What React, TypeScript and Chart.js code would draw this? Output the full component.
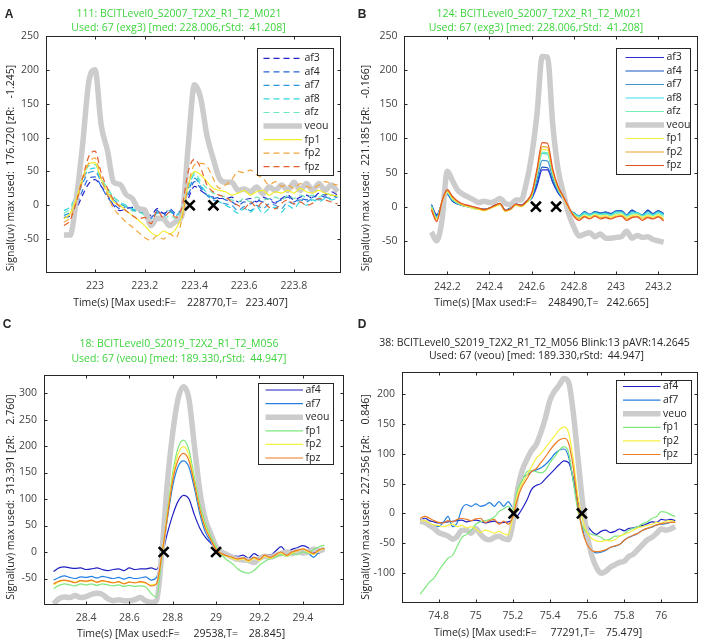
import React, { useEffect, useRef } from 'react';
import { Chart, registerables } from 'chart.js';
Chart.register(...registerables);

const FONT = '"Open Sans", "DejaVu Sans", sans-serif';
const AXIS_COLOR = '#262626';
const TICK_COLOR = '#444444';
const GREEN = '#3dd43d';
const GRAY = '#cccccc';

// ---------------- Panel A ----------------
const aTime = [222.875, 222.9, 222.925, 222.95, 222.975, 223, 223.025, 223.05, 223.075, 223.1, 223.125, 223.15, 223.175, 223.2, 223.225, 223.25, 223.275, 223.3, 223.325, 223.35, 223.375, 223.4, 223.425, 223.45, 223.475, 223.5, 223.525, 223.55, 223.575, 223.6, 223.625, 223.65, 223.675, 223.7, 223.725, 223.75, 223.775, 223.8, 223.825, 223.85, 223.875, 223.9, 223.925, 223.95, 223.975];
const aAf3 = [-18, -16, -5, 15, 32, 38, 28, 15, 0, -8, -5, -3, -8, -10, -15, -5, -12, -8, -15, -8, 10, 28, 22, 15, 12, 10, 10, 12, 5, 8, 10, 5, 12, 8, 3, 10, 15, 8, 12, 15, 10, 18, 15, 20, 15];
const aAf4 = [-18, -15, 0, 22, 40, 42, 28, 12, 2, -5, -2, -8, -5, -10, -18, -8, -15, -5, -12, -5, 15, 35, 25, 15, 10, 12, 8, 5, 0, 5, 2, 8, 5, 10, 5, 8, 12, 5, 10, 8, 12, 15, 12, 15, 12];
const aAf7 = [-15, -10, 8, 32, 48, 50, 35, 20, 8, 2, -2, -6, -10, -12, -20, -10, -18, -8, -14, -5, 20, 40, 28, 15, 8, 5, 2, 0, -8, -2, -8, 0, -5, 2, 0, -5, 5, 2, 8, 5, 10, 8, 12, 10, 12];
const aAf8 = [-8, -2, 15, 38, 52, 55, 38, 25, 12, 5, 0, -5, -8, -10, -22, -12, -20, -10, -15, -5, 25, 45, 30, 18, 10, 5, 0, -5, -12, -5, -10, -2, -12, -5, -3, -10, 0, -5, 5, 0, 8, 5, 10, 8, 10];
const aAfz = [-12, -5, 12, 40, 58, 60, 40, 25, 12, 5, -2, -8, -10, -15, -25, -18, -22, -15, -20, -8, 28, 48, 35, 25, 18, 15, 12, 8, 5, 10, 5, 12, 8, 10, 12, 8, 15, 10, 15, 12, 15, 12, 18, 15, 14];
const aVeou = [-44, -44, 10, 89, 182, 200, 118, 81, 34, 31, 16, 10, -5, -7, -30, -19, -20, -30, -24, -15, 89, 178, 158, 103, 69, 40, 34, 34, 22, 24, 20, 27, 17, 27, 22, 30, 22, 34, 22, 32, 22, 32, 22, 30, 20];
const aFp1 = [-20, -12, 10, 40, 62, 63, 38, 20, 5, 0, -8, -15, -22, -30, -40, -45, -38, -42, -35, -15, 30, 50, 45, 35, 25, 22, 20, 15, 18, 22, 15, 20, 22, 15, 20, 18, 22, 18, 25, 20, 18, 22, 18, 15, 14];
const aFp2 = [-25, -18, 5, 35, 62, 70, 40, 15, -5, -15, -25, -32, -40, -48, -52, -45, -50, -42, -48, -20, 30, 60, 62, 58, 40, 25, 30, 38, 50, 48, 52, 45, 40, 30, 35, 28, 30, 25, 32, 28, 25, 30, 35, 32, 30];
const aFpz = [-30, -22, 5, 40, 72, 80, 48, 25, 8, -2, -8, -15, -20, -18, -27, -8, -18, -10, -18, -2, 50, 68, 55, 30, 20, 15, 12, 5, 0, -5, 5, -3, 5, -3, -5, 3, 8, 2, 5, 0, 3, 10, 8, 5, 2];
const aMarkers = [223.381, 223.476];
const aXTicks = [223, 223.2, 223.4, 223.6, 223.8];
const aYTicks = [-50, 0, 50, 100, 150, 200, 250];

// ---------------- Panel B ----------------
const bTime = [242.125, 242.15, 242.175, 242.2, 242.225, 242.25, 242.275, 242.3, 242.325, 242.35, 242.375, 242.4, 242.425, 242.45, 242.475, 242.5, 242.525, 242.55, 242.575, 242.6, 242.625, 242.65, 242.675, 242.7, 242.725, 242.75, 242.775, 242.8, 242.825, 242.85, 242.875, 242.9, 242.925, 242.95, 242.975, 243, 243.025, 243.05, 243.075, 243.1, 243.125, 243.15, 243.175, 243.2, 243.225];
const bAf3 = [3, -12, 5, 18, 8, 4, 2, 0, -2, -3, -4, -2, 2, 4, -5, -2, 4, 2, 8, 12, 30, 54, 54, 35, 20, 10, -5, -10, -15, -8, -12, -8, -10, -8, -10, -7, -6, -12, -5, -10, -12, -5, -10, -6, -10];
const bAf4 = [3, -13, 5, 18, 8, 4, 2, 0, -2, -3, -4, -2, 2, 4, -5, -2, 4, 2, 8, 13, 34, 58, 57, 37, 21, 10, -4, -9, -14, -7, -11, -7, -9, -8, -10, -6, -6, -12, -5, -9, -12, -5, -10, -6, -10];
const bAf7 = [2, -15, 6, 19, 9, 4, 1, 0, -2, -3, -4, -2, 1, 4, -5, -2, 4, 2, 7, 14, 40, 68, 67, 42, 23, 11, -3, -10, -13, -8, -11, -8, -10, -9, -11, -7, -7, -12, -7, -9, -12, -7, -11, -7, -11];
const bAf8 = [1, -16, 6, 20, 10, 5, 2, 0, -2, -3, -4, -2, 1, 4, -5, -3, 3, 1, 7, 15, 46, 78, 77, 46, 25, 12, -2, -10, -14, -9, -12, -9, -11, -10, -12, -8, -8, -13, -9, -9, -13, -9, -12, -8, -12];
const bAfz = [0, -17, 6, 21, 11, 5, 2, 0, -3, -4, -5, -3, 1, 3, -6, -4, 3, 1, 6, 15, 48, 80, 79, 48, 26, 12, -2, -11, -15, -11, -13, -10, -12, -11, -13, -10, -9, -14, -11, -10, -14, -11, -13, -10, -14];
const bVeou = [-37, -50, -20, 52, 38, 24, 18, 14, 10, 6, 8, 6, 8, 12, 5, 3, 10, 10, 35, 75, 135, 220, 219, 120, 55, 20, -10, -30, -43, -40, -38, -44, -40, -46, -46, -45, -44, -36, -46, -42, -45, -44, -48, -50, -52];
const bFp1 = [-1, -18, 7, 22, 12, 6, 2, 0, -3, -4, -6, -3, 0, 3, -7, -4, 2, 0, 6, 16, 50, 84, 83, 50, 27, 13, -2, -12, -17, -13, -15, -12, -14, -13, -15, -12, -11, -16, -13, -12, -16, -13, -15, -12, -17];
const bFp2 = [-3, -20, 8, 23, 14, 7, 3, 1, -1, -3, -5, -2, 1, 4, -6, -4, 3, 1, 7, 18, 52, 88, 87, 52, 28, 14, -1, -13, -18, -14, -17, -13, -16, -15, -17, -14, -13, -18, -15, -14, -18, -15, -17, -14, -19];
const bFpz = [-5, -22, 8, 25, 15, 8, 4, 2, 0, -2, -4, -2, 2, 5, -5, -3, 4, 2, 8, 20, 55, 94, 93, 55, 30, 15, 0, -14, -20, -15, -18, -14, -18, -16, -18, -15, -14, -20, -16, -15, -20, -16, -18, -15, -21];
const bMarkers = [242.62, 242.716];
const bXTicks = [242.2, 242.4, 242.6, 242.8, 243, 243.2];
const bYTicks = [-50, 0, 50, 100, 150, 200, 250];

// ---------------- Panel C ----------------
const cTime = [28.25, 28.275, 28.3, 28.325, 28.35, 28.375, 28.4, 28.425, 28.45, 28.475, 28.5, 28.525, 28.55, 28.575, 28.6, 28.625, 28.65, 28.675, 28.7, 28.725, 28.75, 28.775, 28.8, 28.825, 28.85, 28.875, 28.9, 28.925, 28.95, 28.975, 29, 29.025, 29.05, 29.075, 29.1, 29.125, 29.15, 29.175, 29.2, 29.225, 29.25, 29.275, 29.3, 29.325, 29.35, 29.375, 29.4, 29.425, 29.45, 29.475, 29.5];
const cAf4 = [-37, -30, -28, -30, -31, -30, -33, -32, -30, -33, -35, -33, -32, -35, -30, -33, -32, -32, -30, -33, -8, 35, 70, 96, 107, 100, 70, 45, 28, 17, 7, -2, -5, -7, -8, -6, -12, -3, -8, -5, -6, 2, 10, 0, 5, 8, 12, 8, 0, -2, 6];
const cAf7 = [-53, -48, -45, -48, -50, -47, -48, -46, -49, -46, -48, -50, -48, -51, -48, -50, -49, -47, -53, -48, -8, 62, 125, 162, 172, 160, 120, 72, 38, 20, 6, -3, -6, -10, -13, -10, -15, -10, -15, -5, -10, -8, 0, -8, -3, 0, 2, -2, -10, 0, 5];
const cVeou = [-98, -88, -85, -86, -82, -86, -84, -80, -78, -80, -88, -92, -90, -92, -92, -90, -86, -92, -95, -92, 0, 130, 225, 290, 312, 288, 200, 115, 62, 35, 10, 0, -5, -10, -14, -15, -16, -20, -12, -8, -10, -6, -3, 0, -3, 2, -2, 0, 5, 3, 5];
const cFp1 = [-69, -63, -60, -62, -64, -60, -62, -60, -63, -60, -62, -64, -62, -65, -63, -65, -64, -66, -78, -85, -8, 75, 150, 197, 211, 192, 140, 90, 55, 30, 10, -5, -15, -22, -32, -38, -40, -35, -25, -18, -12, -10, -5, -8, -3, -5, 0, -2, 5, 10, 13];
const cFp2 = [-62, -56, -54, -55, -57, -54, -56, -54, -57, -55, -56, -58, -57, -59, -57, -58, -57, -59, -62, -60, -4, 70, 142, 186, 199, 182, 132, 82, 48, 25, 6, -4, -8, -12, -15, -13, -18, -12, -16, -8, -12, -6, -2, -8, -2, 2, 5, 0, -5, 3, 6];
const cFpz = [-60, -55, -53, -55, -58, -54, -55, -53, -57, -54, -56, -58, -56, -60, -57, -58, -56, -58, -64, -60, -5, 66, 135, 174, 186, 172, 128, 80, 45, 24, 5, -3, -7, -10, -13, -11, -16, -10, -14, -6, -10, -5, 0, -6, 0, 3, 6, 2, -3, 4, 7];
const cMarkers = [28.758, 29.0];
const cXTicks = [28.4, 28.6, 28.8, 29, 29.2, 29.4];
const cYTicks = [-50, 0, 50, 100, 150, 200, 250, 300];

// ---------------- Panel D ----------------
const dTime = [74.7, 74.725, 74.75, 74.775, 74.8, 74.825, 74.85, 74.875, 74.9, 74.925, 74.95, 74.975, 75, 75.025, 75.05, 75.075, 75.1, 75.125, 75.15, 75.175, 75.2, 75.225, 75.25, 75.275, 75.3, 75.325, 75.35, 75.375, 75.4, 75.425, 75.45, 75.475, 75.5, 75.525, 75.55, 75.575, 75.6, 75.625, 75.65, 75.675, 75.7, 75.725, 75.75, 75.775, 75.8, 75.825, 75.85, 75.875, 75.9, 75.925, 75.95, 75.975, 76, 76.025, 76.05, 76.075];
const dAf4 = [-11, -8, -12, -14, -16, -15, -14, -13, -12, -11, -14, -12, -11, -13, -16, -14, -13, -16, -15, -14, -10, -4, 8, 22, 40, 47, 50, 58, 66, 74, 82, 88, 85, 60, 22, -5, -20, -30, -35, -30, -28, -32, -30, -26, -29, -25, -24, -22, -20, -17, -14, -15, -10, -11, -10, -12];
const dAf7 = [-13, -15, -18, -20, -22, -15, -5, -22, -15, 8, 15, 12, 16, 12, 14, 18, 12, 20, 12, 20, 10, 50, 60, 64, 70, 73, 76, 82, 90, 100, 106, 108, 95, 55, 10, -25, -50, -62, -66, -65, -62, -57, -55, -52, -45, -40, -37, -33, -28, -25, -23, -19, -18, -17, -15, -15];
const dVeuo = [-13, -15, -20, -25, -32, -35, -38, -43, -38, -28, -28, -33, -25, -35, -42, -44, -40, -38, -42, -44, -15, 40, 72, 90, 105, 115, 135, 160, 190, 205, 215, 226, 220, 170, 95, 20, -35, -70, -90, -100, -97, -90, -86, -82, -80, -72, -68, -60, -52, -44, -40, -33, -26, -28, -26, -22];
const dFp1 = [-135, -125, -115, -108, -96, -85, -75, -70, -55, -40, -35, -28, -18, -14, -12, -10, -6, 3, 8, 12, 5, 40, 55, 70, 72, 70, 68, 72, 85, 95, 106, 112, 102, 55, 5, -22, -32, -35, -37, -40, -45, -43, -38, -38, -34, -28, -25, -22, -17, -14, -8, -5, 3, 2, -2, -5];
const dFp2 = [-13, -12, -16, -19, -20, -22, -20, -18, -22, -20, -24, -22, -26, -32, -28, -30, -33, -30, -34, -36, -5, 32, 50, 64, 78, 92, 100, 110, 120, 130, 140, 145, 135, 92, 30, -10, -32, -42, -46, -47, -45, -46, -44, -38, -35, -32, -28, -24, -22, -20, -18, -15, -16, -13, -12, -14];
const dFpz = [-8, -5, -8, -12, -15, -16, -12, -14, -10, -8, -10, -12, -9, -8, -15, -12, -10, -18, -13, -18, -5, 25, 45, 58, 70, 75, 85, 95, 106, 116, 123, 126, 118, 78, 15, -30, -52, -62, -64, -63, -61, -57, -54, -52, -45, -40, -36, -33, -28, -25, -22, -19, -17, -16, -15, -15];
const dMarkers = [75.204, 75.572];
const dXTicks = [74.8, 75, 75.2, 75.4, 75.6, 75.8, 76];
const dYTicks = [-100, -50, 0, 50, 100, 150, 200];

type SeriesDef = { name: string; values: number[]; color: string; dash: number[]; width: number };
type Box = { left: number; top: number; right: number; bottom: number };
type LegendGeo = { x: number; y: number; w: number; h: number; first: number; row: number; lx0: number; lx1: number; tx: number };
type PanelDef = {
  left: number; top: number; width: number; height: number;
  times: number[]; series: SeriesDef[]; markers: number[];
  xMin: number; xMax: number; yMin: number; yMax: number;
  xTicks: number[]; yTicks: number[];
  area: Box; legend: LegendGeo; xPad: number; yPad: number;
};

const DASH = [6, 4];
const S = (name: string, values: number[], color: string, dashed = false, width = 1.2): SeriesDef =>
  ({ name, values, color, dash: dashed ? DASH : [], width });

const panels: PanelDef[] = [
  {
    left: 0, top: 0, width: 354, height: 320,
    times: aTime,
    series: [
      S('af3', aAf3, '#2323c8', true), S('af4', aAf4, '#2563d9', true), S('af7', aAf7, '#2a98dd', true),
      S('af8', aAf8, '#33d6e0', true), S('afz', aAfz, '#6ce8bc', true), S('veou', aVeou, GRAY, false, 5.5),
      S('fp1', aFp1, '#f2ee2a'), S('fp2', aFp2, '#f2a43a', true), S('fpz', aFpz, '#e2602e', true),
    ],
    markers: aMarkers, xMin: 222.803, xMax: 223.989, yMin: -100, yMax: 250, xTicks: aXTicks, yTicks: aYTicks,
    area: { left: 46, top: 36, right: 341, bottom: 273 },
    legend: { x: 257, y: 48, w: 76, h: 127, first: 58.3, row: 13.55, lx0: 263.5, lx1: 302, tx: 304.5 },
    xPad: 7, yPad: 7,
  },
  {
    left: 354, top: 0, width: 354, height: 320,
    times: bTime,
    series: [
      S('af3', bAf3, '#2b2bd6'), S('af4', bAf4, '#1a56c6'), S('af7', bAf7, '#3e93c8'),
      S('af8', bAf8, '#38dfe6'), S('afz', bAfz, '#72eeb8'), S('veou', bVeou, GRAY, false, 5.5),
      S('fp1', bFp1, '#f4ee3c'), S('fp2', bFp2, '#eea42e'), S('fpz', bFpz, '#e4521f'),
    ],
    markers: bMarkers, xMin: 241.995, xMax: 243.39, yMin: -100, yMax: 250, xTicks: bXTicks, yTicks: bYTicks,
    area: { left: 404, top: 36, right: 703, bottom: 275 },
    legend: { x: 616, y: 48, w: 74, h: 126, first: 57.5, row: 13.5, lx0: 625.5, lx1: 664, tx: 666.5 },
    xPad: 6, yPad: 6.5,
  },
  {
    left: 0, top: 320, width: 354, height: 322,
    times: cTime,
    series: [
      S('af4', cAf4, '#2020c4'), S('af7', cAf7, '#2480e0'), S('veou', cVeou, GRAY, false, 5.5),
      S('fp1', cFp1, '#7ee87e'), S('fp2', cFp2, '#f6f040'), S('fpz', cFpz, '#ee7a22'),
    ],
    markers: cMarkers, xMin: 28.206, xMax: 29.592, yMin: -100, yMax: 334, xTicks: cXTicks, yTicks: cYTicks,
    area: { left: 44, top: 375, right: 345, bottom: 605 },
    legend: { x: 258, y: 383, w: 75, h: 81, first: 390, row: 13.6, lx0: 265.5, lx1: 303, tx: 305.5 },
    xPad: 6.5, yPad: 7,
  },
  {
    left: 354, top: 320, width: 354, height: 322,
    times: dTime,
    series: [
      S('af4', dAf4, '#2020c4'), S('af7', dAf7, '#2480e0'), S('veuo', dVeuo, GRAY, false, 5.5),
      S('fp1', dFp1, '#7ee87e'), S('fp2', dFp2, '#f6f040'), S('fpz', dFpz, '#ee7a22'),
    ],
    markers: dMarkers, xMin: 74.602, xMax: 76.2, yMin: -150, yMax: 237, xTicks: dXTicks, yTicks: dYTicks,
    area: { left: 402, top: 372, right: 703, bottom: 603 },
    legend: { x: 616, y: 380, w: 75, h: 83, first: 386.5, row: 13.6, lx0: 623, lx1: 660.5, tx: 663 },
    xPad: 7, yPad: 7,
  },
];

const boxPlugin = {
  id: 'matlabBox',
  afterDraw(chart: any, _args: any, opts: any) {
    const { ctx, chartArea: a, scales } = chart;
    ctx.save();
    ctx.strokeStyle = AXIS_COLOR;
    ctx.lineWidth = 1;
    ctx.setLineDash([]);
    const L = Math.round(a.left) + 0.5, T = Math.round(a.top) + 0.5;
    const R = Math.round(a.right) - 0.5, B = Math.round(a.bottom) - 0.5;
    ctx.strokeRect(L, T, R - L, B - T);
    ctx.beginPath();
    const tl = 3;
    scales.x.ticks.forEach((t: any) => {
      const px = Math.round(scales.x.getPixelForValue(t.value)) + 0.5;
      ctx.moveTo(px, T); ctx.lineTo(px, T + tl);
      ctx.moveTo(px, B); ctx.lineTo(px, B - tl);
    });
    scales.y.ticks.forEach((t: any) => {
      const py = Math.round(scales.y.getPixelForValue(t.value)) + 0.5;
      ctx.moveTo(L, py); ctx.lineTo(L + tl, py);
      ctx.moveTo(R, py); ctx.lineTo(R - tl, py);
    });
    ctx.stroke();

    const lg = opts.legend;
    const items = opts.items as SeriesDef[];
    ctx.fillStyle = '#ffffff';
    ctx.fillRect(lg.x, lg.y, lg.w, lg.h);
    ctx.strokeStyle = AXIS_COLOR;
    ctx.lineWidth = 1;
    ctx.strokeRect(Math.round(lg.x) + 0.5, Math.round(lg.y) + 0.5, Math.round(lg.w), Math.round(lg.h));
    items.forEach((it, i) => {
      const cy = lg.first + i * lg.row;
      ctx.beginPath();
      ctx.setLineDash(it.dash);
      ctx.strokeStyle = it.color;
      ctx.lineWidth = it.width;
      ctx.lineCap = 'butt';
      ctx.moveTo(lg.lx0, cy);
      ctx.lineTo(lg.lx1, cy);
      ctx.stroke();
      ctx.setLineDash([]);
      ctx.fillStyle = AXIS_COLOR;
      ctx.font = `10.5px ${FONT}`;
      ctx.textBaseline = 'middle';
      ctx.textAlign = 'left';
      ctx.fillText(it.name, lg.tx, cy);
    });
    ctx.restore();
  },
};

function buildConfig(p: PanelDef): any {
  const padTop = p.area.top - p.top;
  const padRight = p.left + p.width - p.area.right;
  const yAxisW = p.area.left - p.left;
  const xAxisH = p.top + p.height - p.area.bottom;
  const lines = p.series.map((s) => ({
    type: 'line',
    label: s.name,
    data: p.times.map((t, i) => ({ x: t, y: s.values[i] })),
    borderColor: s.color,
    borderWidth: s.width,
    borderDash: s.dash,
    pointRadius: 0,
    fill: false,
    cubicInterpolationMode: 'monotone',
    clip: 0,
    borderJoinStyle: 'round',
  })).reverse();
  const markerSet = {
    type: 'scatter',
    label: 'x',
    data: p.markers.map((t) => ({ x: t, y: 0 })),
    pointStyle: 'crossRot',
    pointRadius: 7,
    pointBorderColor: '#000000',
    pointBorderWidth: 2.6,
    borderColor: '#000000',
    showLine: false,
    clip: 0,
  };
  const tickFont = { family: FONT, size: 10.5 };
  const lg = p.legend;
  return {
    type: 'line',
    data: { datasets: [markerSet, ...lines] },
    options: {
      animation: false,
      responsive: false,
      maintainAspectRatio: false,
      devicePixelRatio: 1,
      layout: { padding: { left: 0, top: padTop, right: padRight, bottom: 0 } },
      plugins: {
        legend: { display: false },
        tooltip: { enabled: false },
        title: { display: false },
        matlabBox: {
          items: p.series,
          legend: {
            x: lg.x - p.left, y: lg.y - p.top, w: lg.w, h: lg.h,
            first: lg.first - p.top, row: lg.row,
            lx0: lg.lx0 - p.left, lx1: lg.lx1 - p.left, tx: lg.tx - p.left,
          },
        },
      },
      scales: {
        x: {
          type: 'linear', min: p.xMin, max: p.xMax,
          afterBuildTicks: (s: any) => { s.ticks = p.xTicks.map((v) => ({ value: v })); },
          afterFit: (s: any) => { s.height = xAxisH; },
          grid: { display: false, drawTicks: false },
          border: { display: false },
          ticks: { padding: p.xPad, color: TICK_COLOR, font: tickFont, autoSkip: false, maxRotation: 0, callback: (v: any) => String(v) },
        },
        y: {
          type: 'linear', min: p.yMin, max: p.yMax,
          afterBuildTicks: (s: any) => { s.ticks = p.yTicks.map((v) => ({ value: v })); },
          afterFit: (s: any) => { s.width = yAxisW; },
          grid: { display: false, drawTicks: false },
          border: { display: false },
          ticks: { padding: p.yPad, color: TICK_COLOR, font: tickFont, autoSkip: false, callback: (v: any) => String(v) },
        },
      },
    },
    plugins: [boxPlugin],
  };
}

function Panel({ def }: { def: PanelDef }) {
  const ref = useRef<HTMLCanvasElement>(null);
  useEffect(() => {
    const chart = new Chart(ref.current as HTMLCanvasElement, buildConfig(def));
    return () => chart.destroy();
  }, [def]);
  return (
    <canvas
      ref={ref}
      width={def.width}
      height={def.height}
      style={{ position: 'absolute', left: def.left, top: def.top, width: def.width, height: def.height }}
    />
  );
}

type Label = { x: number; y: number; text: string; color?: string; rotate?: boolean; bold?: boolean; size?: number };

const labels: Label[] = [
  { x: 179, y: 12.7, text: '111: BCITLevel0_S2007_T2X2_R1_T2_M021', color: GREEN },
  { x: 178.5, y: 27, text: 'Used: 67 (exg3) [med: 228.006,rStd:  41.208]', color: GREEN },
  { x: 10, y: 168, text: 'Signal(uv) max used:  176.720 [zR:   -1.245]', rotate: true },
  { x: 180.5, y: 301.7, text: 'Time(s) [Max used:F=    228770,T=   223.407]' },
  { x: 539, y: 12.7, text: '124: BCITLevel0_S2007_T2X2_R1_T2_M021', color: GREEN },
  { x: 536, y: 26.7, text: 'Used: 67 (exg3) [med: 228.006,rStd:  41.208]', color: GREEN },
  { x: 365, y: 168, text: 'Signal(uv) max used:  221.185 [zR:   -0.166]', rotate: true },
  { x: 541.5, y: 301.7, text: 'Time(s) [Max used:F=    248490,T=   242.665]' },
  { x: 179, y: 343, text: '18: BCITLevel0_S2019_T2X2_R1_T2_M056', color: GREEN },
  { x: 179, y: 357.5, text: 'Used: 67 (veou) [med: 189.330,rStd:  44.947]', color: GREEN },
  { x: 10, y: 496.5, text: 'Signal(uv) max used:  313.391 [zR:    2.760]', rotate: true },
  { x: 181, y: 633, text: 'Time(s) [Max used:F=     29538,T=    28.845]' },
  { x: 534.5, y: 341.7, text: '38: BCITLevel0_S2019_T2X2_R1_T2_M056 Blink:13 pAVR:14.2645' },
  { x: 536.5, y: 355, text: 'Used: 67 (veou) [med: 189.330,rStd:  44.947]' },
  { x: 365, y: 497, text: 'Signal(uv) max used:  227.356 [zR:    0.846]', rotate: true },
  { x: 538, y: 631.7, text: 'Time(s) [Max used:F=     77291,T=    75.479]' },
  { x: 9, y: 13.5, text: 'A', bold: true, size: 12 },
  { x: 362, y: 13.5, text: 'B', bold: true, size: 12 },
  { x: 7, y: 323.5, text: 'C', bold: true, size: 12 },
  { x: 362, y: 323.5, text: 'D', bold: true, size: 12 },
];

function TextLabel({ l }: { l: Label }) {
  return (
    <div
      style={{
        position: 'absolute',
        left: l.x,
        top: l.y,
        transform: `translate(-50%, -50%)${l.rotate ? ' rotate(-90deg)' : ''}`,
        whiteSpace: 'pre',
        fontFamily: l.bold ? '"Liberation Sans", Arial, sans-serif' : FONT,
        fontWeight: l.bold ? 700 : 400,
        fontSize: l.size ?? 10.5,
        lineHeight: 1,
        color: l.color ?? AXIS_COLOR,
      }}
    >
      {l.text}
    </div>
  );
}

export default function App() {
  return (
    <div style={{ position: 'absolute', left: 0, top: 0, width: 708, height: 642, background: '#ffffff', overflow: 'hidden' }}>
      {panels.map((p, i) => <Panel key={i} def={p} />)}
      {labels.map((l, i) => <TextLabel key={i} l={l} />)}
    </div>
  );
}
